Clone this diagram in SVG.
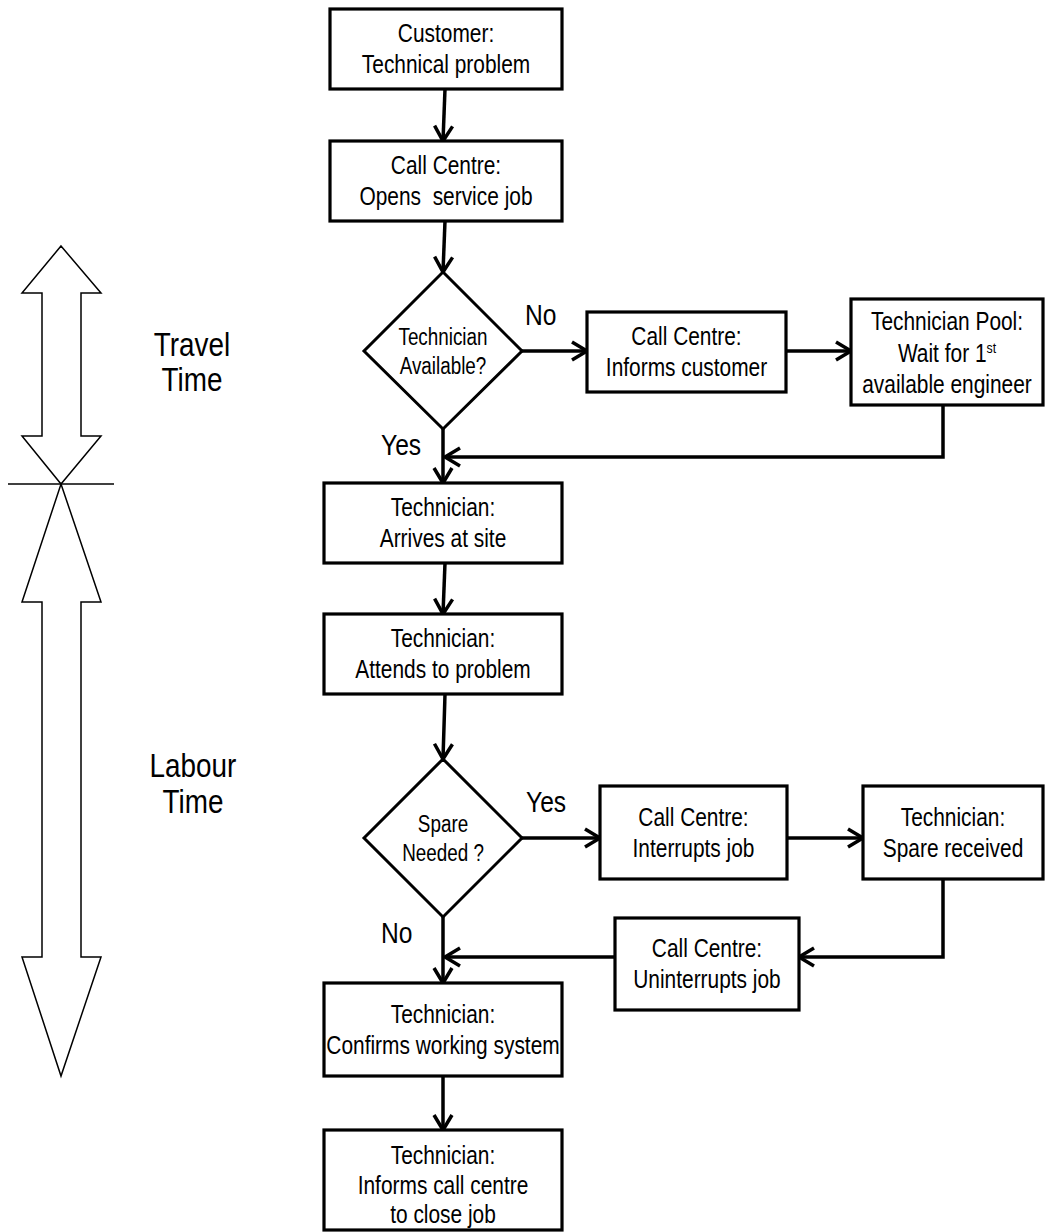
<svg xmlns="http://www.w3.org/2000/svg" width="1045" height="1232" viewBox="0 0 1045 1232">
<defs>
<style>
.box{fill:#fff;stroke:#000;stroke-width:3.2}
.dia{fill:#fff;stroke:#000;stroke-width:3}
.con{fill:none;stroke:#000;stroke-width:3.5}
.big{fill:#fff;stroke:#000;stroke-width:1.5}
text{font-family:"Liberation Sans Narrow","Arial Narrow","Liberation Sans",Arial,sans-serif;fill:#000}
.t{font-size:25.5px;text-anchor:middle}
.d{font-size:23px;text-anchor:middle}
.l{font-size:30px}
.s{font-size:34px;text-anchor:middle}
</style>
<marker id="ah" markerUnits="userSpaceOnUse" markerWidth="24" markerHeight="24" viewBox="0 0 24 24" refX="18" refY="12" orient="auto" overflow="visible">
<path d="M3,3 L18,12 L3,21" fill="none" stroke="#000" stroke-width="3.5"/>
</marker>
</defs>
<rect width="1045" height="1232" fill="#fff"/>

<g id="scale-arrows">
<polygon class="big" points="61,246 101,293 81,293 81,436 101,436 61,484 22,436 42,436 42,293 22,293"/>
<polygon class="big" points="61,484 101,602 81,602 81,957 101,957 61,1076 22,957 42,957 42,602 22,602"/>
<line x1="8" y1="484" x2="114" y2="484" stroke="#000" stroke-width="1.5"/>
<text class="s" transform="translate(192,0) scale(0.82,1)" y="356">Travel</text>
<text class="s" transform="translate(192,0) scale(0.82,1)" y="391">Time</text>
<text class="s" transform="translate(193,0) scale(0.82,1)" y="777">Labour</text>
<text class="s" transform="translate(193,0) scale(0.82,1)" y="813">Time</text>
</g>

<g id="connectors">
<line class="con" x1="445" y1="89" x2="443" y2="141" marker-end="url(#ah)"/>
<line class="con" x1="445" y1="221" x2="443" y2="272" marker-end="url(#ah)"/>
<line class="con" x1="522" y1="351" x2="587" y2="351" marker-end="url(#ah)"/>
<line class="con" x1="786" y1="351" x2="851" y2="351" marker-end="url(#ah)"/>
<polyline class="con" points="943,405 943,457 445,457" marker-end="url(#ah)"/>
<line class="con" x1="443" y1="429" x2="443" y2="483" marker-end="url(#ah)"/>
<line class="con" x1="445" y1="563" x2="443" y2="614" marker-end="url(#ah)"/>
<line class="con" x1="445" y1="694" x2="443" y2="759" marker-end="url(#ah)"/>
<line class="con" x1="522" y1="838" x2="600" y2="838" marker-end="url(#ah)"/>
<line class="con" x1="787" y1="838" x2="863" y2="838" marker-end="url(#ah)"/>
<polyline class="con" points="943,879 943,957 799,957" marker-end="url(#ah)"/>
<line class="con" x1="615" y1="957" x2="445" y2="957" marker-end="url(#ah)"/>
<line class="con" x1="443" y1="917" x2="443" y2="983" marker-end="url(#ah)"/>
<line class="con" x1="443" y1="1076" x2="443" y2="1130" marker-end="url(#ah)"/>
<text class="l" transform="translate(525,0) scale(0.82,1)" y="325">No</text>
<text class="l" transform="translate(381,0) scale(0.82,1)" y="455">Yes</text>
<text class="l" transform="translate(526,0) scale(0.82,1)" y="812">Yes</text>
<text class="l" transform="translate(381,0) scale(0.82,1)" y="943">No</text>
</g>

<g id="n1"><rect class="box" x="330" y="9" width="232" height="80"/>
<text class="t" transform="translate(446,0) scale(0.82,1)" y="42.5">Customer:</text>
<text class="t" transform="translate(446,0) scale(0.82,1)" y="73.5">Technical problem</text></g>

<g id="n2"><rect class="box" x="330" y="141" width="232" height="80"/>
<text class="t" transform="translate(446,0) scale(0.82,1)" y="174.5">Call Centre:</text>
<text class="t" transform="translate(446,0) scale(0.82,1)" y="205.5" xml:space="preserve">Opens  service job</text></g>

<g id="n3"><polygon class="dia" points="443,272 522,351 443,429 364,351"/>
<text class="d" transform="translate(443,0) scale(0.82,1)" y="345">Technician</text>
<text class="d" transform="translate(443,0) scale(0.82,1)" y="374">Available?</text></g>

<g id="n4"><rect class="box" x="587" y="312" width="199" height="80"/>
<text class="t" transform="translate(686.5,0) scale(0.82,1)" y="345.5">Call Centre:</text>
<text class="t" transform="translate(686.5,0) scale(0.82,1)" y="376.5">Informs customer</text></g>

<g id="n5"><rect class="box" x="851" y="299" width="192" height="106"/>
<text class="t" transform="translate(947,0) scale(0.82,1)" y="330">Technician Pool:</text>
<text class="t" transform="translate(947,0) scale(0.82,1)" y="362">Wait for 1<tspan font-size="15" dy="-9">st</tspan></text>
<text class="t" transform="translate(947,0) scale(0.82,1)" y="393">available engineer</text></g>

<g id="n6"><rect class="box" x="324" y="483" width="238" height="80"/>
<text class="t" transform="translate(443,0) scale(0.82,1)" y="516">Technician:</text>
<text class="t" transform="translate(443,0) scale(0.82,1)" y="547">Arrives at site</text></g>

<g id="n7"><rect class="box" x="324" y="614" width="238" height="80"/>
<text class="t" transform="translate(443,0) scale(0.82,1)" y="647.5">Technician:</text>
<text class="t" transform="translate(443,0) scale(0.82,1)" y="678.5">Attends to problem</text></g>

<g id="n8"><polygon class="dia" points="443,759 522,838 443,917 364,838"/>
<text class="d" transform="translate(443,0) scale(0.82,1)" y="832">Spare</text>
<text class="d" transform="translate(443,0) scale(0.82,1)" y="861">Needed ?</text></g>

<g id="n9"><rect class="box" x="600" y="786" width="187" height="93"/>
<text class="t" transform="translate(693.5,0) scale(0.82,1)" y="826">Call Centre:</text>
<text class="t" transform="translate(693.5,0) scale(0.82,1)" y="857">Interrupts job</text></g>

<g id="n10"><rect class="box" x="863" y="786" width="180" height="93"/>
<text class="t" transform="translate(953,0) scale(0.82,1)" y="826">Technician:</text>
<text class="t" transform="translate(953,0) scale(0.82,1)" y="857">Spare received</text></g>

<g id="n11"><rect class="box" x="615" y="918" width="184" height="92"/>
<text class="t" transform="translate(707,0) scale(0.82,1)" y="957.5">Call Centre:</text>
<text class="t" transform="translate(707,0) scale(0.82,1)" y="988.5">Uninterrupts job</text></g>

<g id="n12"><rect class="box" x="324" y="983" width="238" height="93"/>
<text class="t" transform="translate(443,0) scale(0.82,1)" y="1023">Technician:</text>
<text class="t" transform="translate(443,0) scale(0.82,1)" y="1054">Confirms working system</text></g>

<g id="n13"><rect class="box" x="324" y="1130" width="238" height="100"/>
<text class="t" transform="translate(443,0) scale(0.82,1)" y="1164">Technician:</text>
<text class="t" transform="translate(443,0) scale(0.82,1)" y="1194">Informs call centre</text>
<text class="t" transform="translate(443,0) scale(0.82,1)" y="1223">to close job</text></g>
</svg>
